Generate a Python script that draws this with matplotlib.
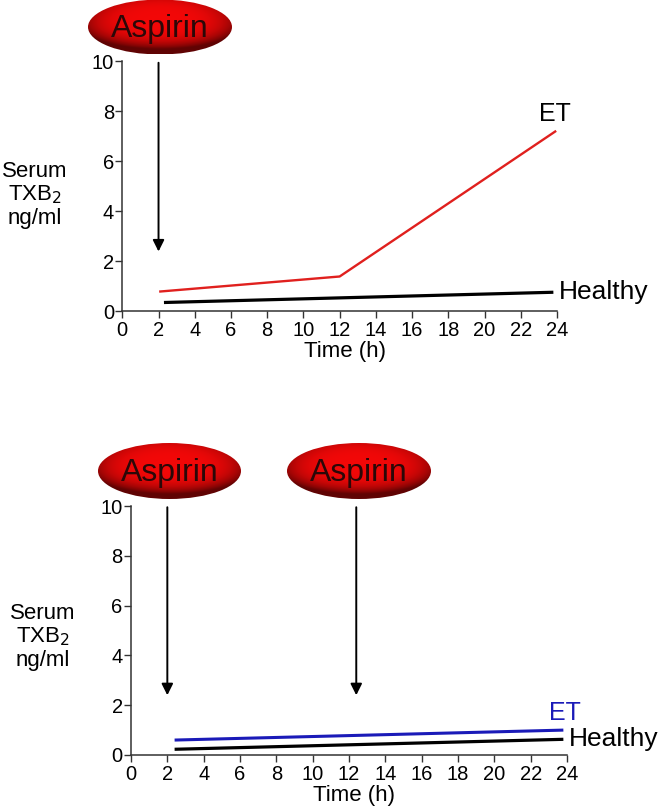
import numpy as np
import matplotlib
matplotlib.use("Agg")
import matplotlib.pyplot as plt
from matplotlib.patches import Ellipse

plt.rcParams['font.family'] = ['Liberation Sans', 'DejaVu Sans']

# data (time in h, serum TXB2 in ng/ml)
hours_et_top = [2.1, 12.0, 23.9]
txb_et_top = [0.8, 1.4, 7.2]
hours_healthy_top = [2.3, 23.8]
txb_healthy_top = [0.36, 0.77]
doses_top = [2.0]

hours_et_bot = [2.4, 23.8]
txb_et_bot = [0.6, 1.0]
hours_healthy_bot = [2.4, 23.8]
txb_healthy_bot = [0.23, 0.63]
doses_bot = [2.0, 12.4]

xticks = list(range(0, 25, 2))
yticks = list(range(0, 11, 2))

W, H = 660, 810
fig = plt.figure(figsize=(6.6, 8.1), dpi=100)


def setup(ax):
    ax.set_xlim(0, 24)
    ax.set_ylim(0, 10)
    ax.set_xticks(xticks)
    ax.set_yticks(yticks)
    for s in ['top', 'right']:
        ax.spines[s].set_visible(False)
    for s in ['left', 'bottom']:
        ax.spines[s].set_color('#333333')
        ax.spines[s].set_linewidth(1.1)
    ax.tick_params(axis='y', direction='out', length=5, width=1, pad=1,
                   labelsize=14.5, color='#333333')
    ax.tick_params(axis='x', direction='out', length=5, width=1, pad=2,
                   labelsize=14.5, color='#333333')
    ax.patch.set_alpha(0)


def dose_arrows(ax, doses):
    for d in doses:
        ax.annotate('', xy=(d, 2.4), xytext=(d, 9.95), annotation_clip=False,
                    arrowprops=dict(arrowstyle='-|>', color='black', lw=1.4,
                                    mutation_scale=17, shrinkA=0, shrinkB=0))


# top panel
ax1 = fig.add_axes([122.3 / W, 498.5 / H, 434.7 / W, 250 / H])
setup(ax1)
ax1.plot(hours_et_top, txb_et_top, color='#e0201e', lw=1.7, clip_on=False)
ax1.plot(hours_healthy_top, txb_healthy_top, color='black', lw=2.3,
         solid_capstyle='butt', clip_on=False)
dose_arrows(ax1, doses_top)
ax1.text(24.1, 0.77, 'Healthy', fontsize=19, va='center', ha='left')
ax1.text(23.9, 7.9, 'ET', fontsize=18, va='center', ha='center')

# bottom panel
ax2 = fig.add_axes([131 / W, 55 / H, 436 / W, 249 / H])
setup(ax2)
ax2.plot(hours_et_bot, txb_et_bot, color='#1a1ab8', lw=2.2,
         solid_capstyle='butt', clip_on=False)
ax2.plot(hours_healthy_bot, txb_healthy_bot, color='black', lw=2.3,
         solid_capstyle='butt', clip_on=False)
dose_arrows(ax2, doses_bot)
ax2.text(24.1, 0.65, 'Healthy', fontsize=19, va='center', ha='left')
ax2.text(23.9, 1.7, 'ET', fontsize=18, va='center', ha='center', color='#1a1ab8')

# axis titles
fig.text(345 / W, 1 - 351 / H, 'Time (h)', fontsize=16, ha='center', va='center')
fig.text(354 / W, 1 - 796 / H, 'Time (h)', fontsize=16, ha='center', va='center')
ylab = 'Serum\nTXB$_2$\nng/ml'
fig.text(35 / W, 1 - 195 / H, ylab, fontsize=16, ha='center', va='center',
         multialignment='center', linespacing=1.1)
fig.text(43 / W, 1 - 637 / H, ylab, fontsize=16, ha='center', va='center',
         multialignment='center', linespacing=1.1)

# "Aspirin" pills in pixel coordinates
ov = fig.add_axes([0, 0, 1, 1], zorder=5)
ov.set_xlim(0, W)
ov.set_ylim(H, 0)
ov.axis('off')
ov.patch.set_alpha(0)

pills = [(160, 27, 144, 55), (169.5, 471, 143, 56), (359, 471, 144, 56)]
for cx, cy, w, h in pills:
    xs = np.linspace(-1, 1, 200)
    ys = np.linspace(-1, 1, 100)
    u, v = np.meshgrid(xs, ys)
    r = np.sqrt(u ** 2 + (v + 0.2) ** 2)
    shade = 1 - 0.35 * np.clip(r, 0, 1.2) ** 4 - 0.3 * np.clip(v, 0, 1) ** 2
    shade = np.clip(shade, 0.4, 1)
    img = np.dstack([0.95 * shade, 0.03 * shade, 0.03 * shade])
    el = Ellipse((cx, cy), w, h, transform=ov.transData, facecolor='none',
                 edgecolor='none')
    ov.add_patch(el)
    im = ov.imshow(img, extent=(cx - w / 2, cx + w / 2, cy + h / 2, cy - h / 2),
                   interpolation='bilinear', aspect='auto')
    im.set_clip_path(el)
    ov.text(cx, cy + 2, 'Aspirin', fontsize=23, ha='center', va='center',
            color='#2b0808')
ov.set_xlim(0, W)
ov.set_ylim(H, 0)

fig.savefig('out.png', dpi=100)
